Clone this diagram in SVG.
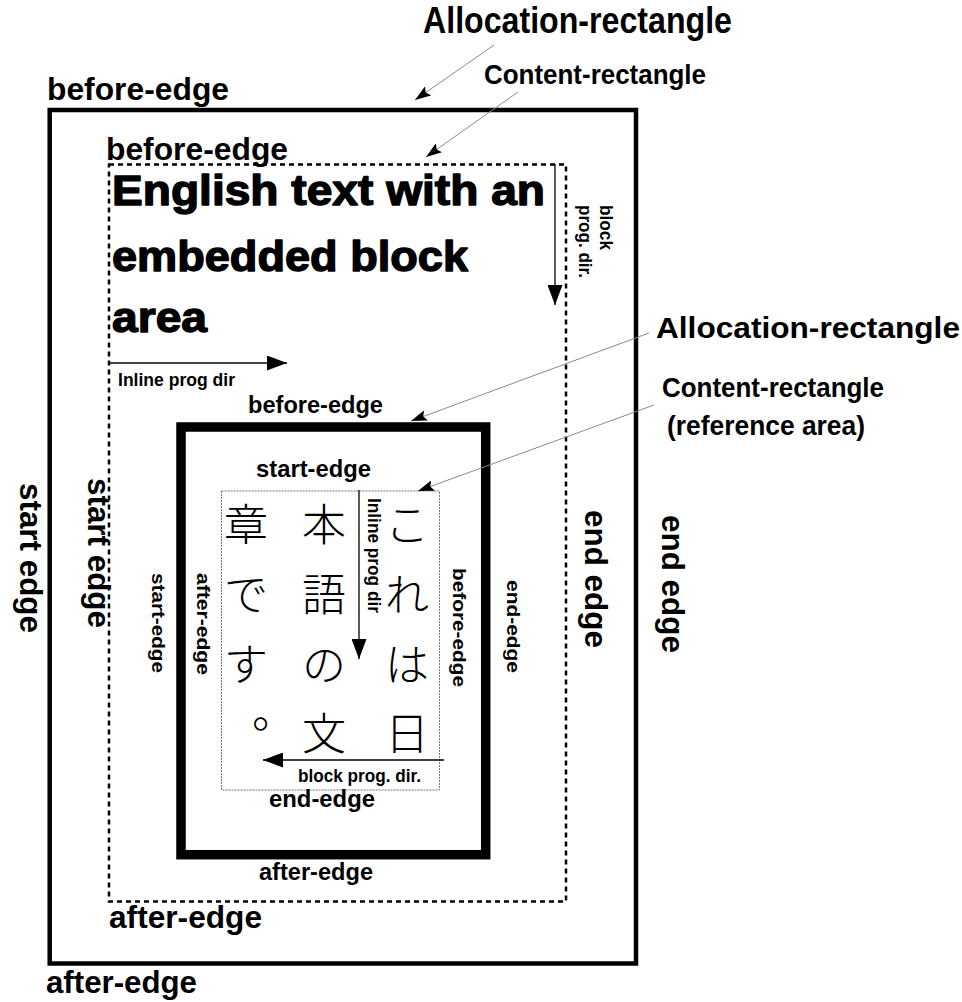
<svg xmlns="http://www.w3.org/2000/svg" width="962" height="1002" viewBox="0 0 962 1002">
<style>
text{font-family:"Liberation Sans",Arial,sans-serif;font-weight:bold;fill:#000}
.big{font-size:31px}
.mid{font-size:23px}
.sm{font-size:18.5px}
.xs{font-size:17.5px}
.huge{font-size:43px;stroke:#000;stroke-width:1.4;stroke-linejoin:round}
.jp{font-family:"Noto Sans CJK JP","Noto Sans CJK SC",sans-serif;font-weight:300;font-size:44px;text-anchor:middle}
.lead{stroke:#8a8a8a;stroke-width:1;fill:none}
.dir{stroke:#000;stroke-width:1.3;fill:none}
</style>
<defs>
<marker id="ah" viewBox="0 0 20 15" refX="20" refY="7.5" markerWidth="20" markerHeight="15" orient="auto" markerUnits="userSpaceOnUse"><path d="M0,0 L20,7.5 L0,15 Z" fill="#000"/></marker>
<marker id="lh" viewBox="0 0 16 11" refX="16" refY="5.5" markerWidth="16" markerHeight="11" orient="auto" markerUnits="userSpaceOnUse"><path d="M0,0 L16,5.5 L0,11 L3,5.5 Z" fill="#000"/></marker>
</defs>
<rect width="962" height="1002" fill="#fff"/>

<g id="outer-allocation">
<rect x="49.7" y="110" width="586.3" height="853.5" fill="none" stroke="#000" stroke-width="4.5"/>
<text class="big" x="47" y="100" textLength="182" lengthAdjust="spacingAndGlyphs">before-edge</text>
<text class="big" x="46" y="993" textLength="151" lengthAdjust="spacingAndGlyphs">after-edge</text>
<text class="big" transform="translate(20,483) rotate(90)" textLength="150" lengthAdjust="spacingAndGlyphs">start edge</text>
<text class="big" transform="translate(662,515) rotate(90)" textLength="138" lengthAdjust="spacingAndGlyphs">end edge</text>
</g>

<g id="outer-content">
<rect x="109" y="164.5" width="457" height="737" fill="none" stroke="#000" stroke-width="2.5" stroke-dasharray="5 4"/>
<text class="big" x="106" y="160" textLength="182" lengthAdjust="spacingAndGlyphs">before-edge</text>
<text class="big" x="109" y="928" textLength="153" lengthAdjust="spacingAndGlyphs">after-edge</text>
<text class="big" transform="translate(88,478) rotate(90)" textLength="150" lengthAdjust="spacingAndGlyphs">start edge</text>
<text class="big" transform="translate(585,510) rotate(90)" textLength="138" lengthAdjust="spacingAndGlyphs">end edge</text>
<text class="huge" x="112" y="205" textLength="433" lengthAdjust="spacingAndGlyphs">English text with an</text>
<text class="huge" x="112" y="271" textLength="356" lengthAdjust="spacingAndGlyphs">embedded block</text>
<text class="huge" x="112" y="332" textLength="95" lengthAdjust="spacingAndGlyphs">area</text>
<text class="sm" x="118" y="386" textLength="117" lengthAdjust="spacingAndGlyphs">Inline prog dir</text>
<text class="xs" transform="translate(599.5,205) rotate(90)" textLength="45" lengthAdjust="spacingAndGlyphs">block</text>
<text class="xs" transform="translate(579,205) rotate(90)" textLength="73" lengthAdjust="spacingAndGlyphs">prog. dir.</text>
</g>

<g id="inner-allocation">
<rect x="181" y="427" width="304.7" height="427.7" fill="none" stroke="#000" stroke-width="9.5"/>
<text class="mid" x="248" y="413" textLength="135" lengthAdjust="spacingAndGlyphs">before-edge</text>
<text class="mid" x="259" y="880" textLength="114" lengthAdjust="spacingAndGlyphs">after-edge</text>
<text class="sm" transform="translate(151.5,573) rotate(90)" textLength="100" lengthAdjust="spacingAndGlyphs">start-edge</text>
<text class="sm" transform="translate(507,580) rotate(90)" textLength="93" lengthAdjust="spacingAndGlyphs">end-edge</text>
</g>

<g id="inner-content">
<rect x="221.5" y="491" width="218" height="299" fill="none" stroke="#777" stroke-width="1" stroke-dasharray="2 1"/>
<text class="mid" x="256" y="477" textLength="115" lengthAdjust="spacingAndGlyphs">start-edge</text>
<text class="mid" x="269" y="807" textLength="106" lengthAdjust="spacingAndGlyphs">end-edge</text>
<text class="sm" transform="translate(196.5,573) rotate(90)" textLength="102" lengthAdjust="spacingAndGlyphs">after-edge</text>
<text class="sm" transform="translate(452.5,568) rotate(90)" textLength="119" lengthAdjust="spacingAndGlyphs">before-edge</text>
<text class="xs" transform="translate(368,498) rotate(90)" textLength="115" lengthAdjust="spacingAndGlyphs">Inline prog dir</text>
<text class="sm" x="298" y="782" textLength="123" lengthAdjust="spacingAndGlyphs">block prog. dir.</text>
<text class="jp"><tspan x="407" y="541">こ</tspan><tspan x="407" y="611">れ</tspan><tspan x="407" y="681">は</tspan><tspan x="407" y="750">日</tspan><tspan x="324" y="541">本</tspan><tspan x="324" y="611">語</tspan><tspan x="324" y="681">の</tspan><tspan x="324" y="750">文</tspan><tspan x="246" y="541">章</tspan><tspan x="246" y="611">で</tspan><tspan x="246" y="681">す</tspan></text>
<text class="jp" style="text-anchor:start" x="252" y="728">。</text>
</g>

<g id="callouts">
<text style="font-size:36px" x="423" y="33" textLength="309" lengthAdjust="spacingAndGlyphs">Allocation-rectangle</text>
<text style="font-size:28px" x="484" y="84" textLength="222" lengthAdjust="spacingAndGlyphs">Content-rectangle</text>
<text style="font-size:30px" x="656" y="338" textLength="304" lengthAdjust="spacingAndGlyphs">Allocation-rectangle</text>
<text style="font-size:28px" x="662" y="397" textLength="222" lengthAdjust="spacingAndGlyphs">Content-rectangle</text>
<text style="font-size:28px" x="667" y="435" textLength="198" lengthAdjust="spacingAndGlyphs">(reference area)</text>
</g>

<g id="connectors">
<line class="lead" x1="494" y1="45" x2="415" y2="100" marker-end="url(#lh)"/>
<line class="lead" x1="518" y1="92" x2="426" y2="157" marker-end="url(#lh)"/>
<line class="lead" x1="649" y1="333" x2="411" y2="421" marker-end="url(#lh)"/>
<line class="lead" x1="654" y1="405" x2="418" y2="491" marker-end="url(#lh)"/>
<line class="dir" x1="555" y1="164" x2="555" y2="305" marker-end="url(#ah)"/>
<line class="dir" x1="110" y1="363" x2="287" y2="363" marker-end="url(#ah)"/>
<line class="dir" x1="359" y1="490" x2="359" y2="659" marker-end="url(#ah)"/>
<line class="dir" x1="444" y1="760" x2="263" y2="760" marker-end="url(#ah)"/>
</g>
</svg>
